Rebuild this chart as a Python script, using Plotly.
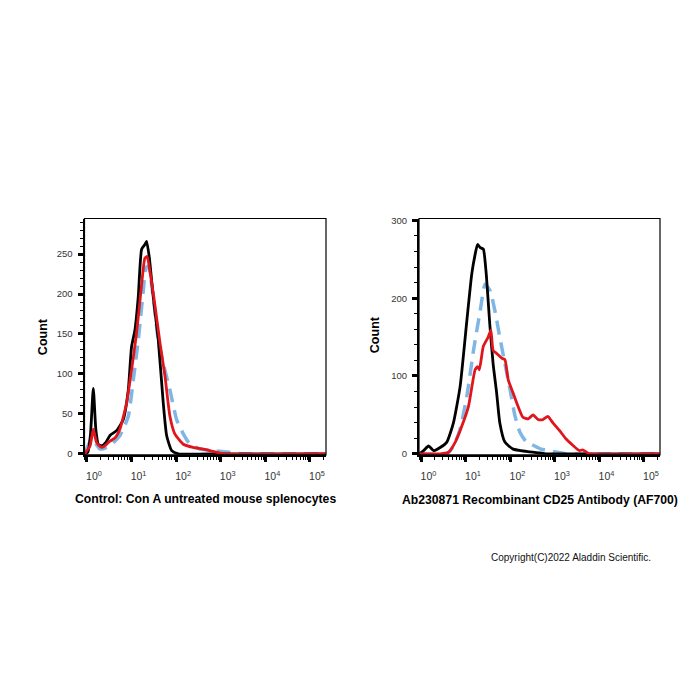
import numpy as np
import plotly.graph_objects as go
from plotly.subplots import make_subplots

# ---- data (x in log10 decades of fluorescence, y = count) ----
left_black_logx = [-0.05, 0.02, 0.08, 0.142, 0.2, 0.254, 0.33, 0.42, 0.516, 0.665, 0.815, 0.927, 1.0, 1.076, 1.15, 1.226, 1.30, 1.338, 1.40, 1.487, 1.6, 1.71, 1.786, 1.9, 2.05, 3.0, 5.35]
left_black_y    = [0, 2, 25, 82, 30, 12, 10, 14, 23, 29, 43, 80, 134, 155, 196, 256, 262, 266, 245, 196, 142, 64, 23, 4, 0, 0, 0]

left_red_logx = [-0.05, 0.07, 0.142, 0.217, 0.33, 0.42, 0.516, 0.63, 0.74, 0.89, 1.0, 1.11, 1.226, 1.30, 1.35, 1.41, 1.50, 1.64, 1.75, 1.86, 1.97, 2.16, 2.38, 2.61, 2.83, 3.06, 5.35]
left_red_y    = [0, 10, 31, 14, 8, 11, 16, 20, 31, 64, 105, 150, 212, 245, 247, 229, 196, 138, 97, 47, 25, 12, 8, 6, 3, 0, 0]

left_blue_logx = [-0.05, 0.10, 0.18, 0.29, 0.40, 0.516, 0.74, 0.927, 1.04, 1.15, 1.263, 1.32, 1.375, 1.487, 1.6, 1.71, 1.86, 2.01, 2.16, 2.31, 2.53, 2.83, 3.2, 3.5, 5.35]
left_blue_y    = [0, 18, 14, 6, 7, 10, 23, 47, 93, 142, 204, 233, 235, 196, 142, 113, 80, 43, 25, 12, 6, 4, 2, 0, 0]

right_black_logx = [-0.04, 0.05, 0.16, 0.275, 0.42, 0.57, 0.72, 0.87, 1.02, 1.13, 1.205, 1.26, 1.32, 1.39, 1.45, 1.54, 1.61, 1.69, 1.76, 1.875, 2.06, 2.36, 2.66, 2.8, 5.35]
right_black_y    = [0, 4, 10, 4, 8, 15, 40, 87, 171, 231, 256, 269, 265, 263, 235, 163, 116, 78, 40, 15, 6, 3, 1, 0, 0]

right_red_logx = [-0.04, 0.42, 0.61, 0.76, 0.91, 1.057, 1.205, 1.26, 1.30, 1.39, 1.50, 1.56, 1.61, 1.69, 1.80, 1.875, 1.95, 2.06, 2.17, 2.28, 2.40, 2.51, 2.62, 2.73, 2.84, 2.95, 3.10, 3.25, 3.40, 3.55, 3.62, 3.77, 5.35]
right_red_y    = [0, 0, 2, 15, 36, 61, 108, 112, 108, 138, 150, 159, 133, 129, 123, 121, 95, 78, 61, 47, 45, 50, 44, 44, 48, 40, 30, 19, 11, 4, 5, 0, 0]

right_blue_logx = [-0.04, 0.57, 0.72, 0.87, 1.02, 1.17, 1.32, 1.43, 1.54, 1.65, 1.76, 1.875, 1.99, 2.10, 2.21, 2.36, 2.51, 2.69, 2.95, 3.25, 5.35]
right_blue_y    = [0, 0, 10, 32, 74, 133, 184, 218, 210, 184, 150, 116, 83, 49, 28, 15, 11, 6, 3, 0, 0]

decades = [0, 1, 2, 3, 4, 5]
decade_labels = ["10<sup>0</sup>", "10<sup>1</sup>", "10<sup>2</sup>", "10<sup>3</sup>", "10<sup>4</sup>", "10<sup>5</sup>"]
left_title = "Control: Con A untreated mouse splenocytes"
right_title = "Ab230871 Recombinant CD25 Antibody (AF700)"
y_title = "Count"
copyright_text = "Copyright(C)2022 Aladdin Scientific."

BLACK = "#000000"
RED = "#e0161c"
BLUE = "#80b6e4"
FONT = "Liberation Sans, Arial, sans-serif"

fig = make_subplots(rows=1, cols=2)

def add_panel(col, bx, by, rx, ry, gx, gy):
    fig.add_trace(go.Scatter(x=10 ** np.array(gx), y=gy, mode="lines",
                             line=dict(color=BLUE, width=3.5, dash="14px,8px",
                                       shape="spline", smoothing=0.5),
                             showlegend=False), row=1, col=col)
    fig.add_trace(go.Scatter(x=10 ** np.array(bx), y=by, mode="lines",
                             line=dict(color=BLACK, width=2.8, shape="spline", smoothing=0.5),
                             showlegend=False), row=1, col=col)
    fig.add_trace(go.Scatter(x=10 ** np.array(rx), y=ry, mode="lines",
                             line=dict(color=RED, width=2.8, shape="spline", smoothing=0.5),
                             showlegend=False), row=1, col=col)

add_panel(1, left_black_logx, left_black_y, left_red_logx, left_red_y, left_blue_logx, left_blue_y)
add_panel(2, right_black_logx, right_black_y, right_red_logx, right_red_y, right_blue_logx, right_blue_y)

minor_x = [k * 10 ** d for d in range(-1, 6) for k in range(2, 10)]

xaxis_common = dict(
    type="log", range=[-0.055, 5.36],
    tickmode="array", tickvals=[10 ** d for d in decades], ticktext=decade_labels,
    ticks="outside", ticklen=5, tickwidth=3, tickcolor="black",
    showline=True, linecolor="black", linewidth=2, mirror=False,
    showgrid=False, zeroline=False,
    tickfont=dict(family=FONT, size=10.5, color="#333333"),
    ticklabelshift=7, ticklabelstandoff=6,
    minor=dict(tickmode="array", tickvals=minor_x, ticks="outside", ticklen=3,
               tickwidth=1.4, tickcolor="black", showgrid=False),
)
fig.update_xaxes(**xaxis_common)
fig.update_xaxes(domain=[84.5 / 700, 326 / 700], row=1, col=1)
fig.update_xaxes(domain=[419 / 700, 660 / 700], row=1, col=2)

yaxis_common = dict(
    ticks="outside", ticklen=5, tickwidth=3, tickcolor="black",
    showline=True, linecolor="black", linewidth=2, mirror=False,
    showgrid=False, zeroline=False,
    tickfont=dict(family=FONT, size=9.5, color="#333333"),
    ticklabelstandoff=3,
    domain=[1 - 456 / 700, 1 - 217 / 700],
)
fig.update_yaxes(**yaxis_common)
fig.update_yaxes(range=[-1.2, 294.5], tickvals=[0, 50, 100, 150, 200, 250],
                 minor=dict(dtick=10, tick0=0, ticks="outside", ticklen=3, tickwidth=1.2,
                            tickcolor="black", showgrid=False),
                 row=1, col=1)
fig.update_yaxes(range=[-1.3, 302.4], tickvals=[0, 100, 200, 300],
                 minor=dict(dtick=20, tick0=0, ticks="outside", ticklen=3, tickwidth=1.2,
                            tickcolor="black", showgrid=False),
                 row=1, col=2)

# box borders (top/right)
for xr, yr in [("x", "y"), ("x2", "y2")]:
    fig.add_shape(type="rect", xref=xr + " domain", yref=yr + " domain",
                  x0=0, x1=1, y0=0, y1=1, line=dict(color="black", width=1.2),
                  fillcolor="rgba(0,0,0,0)", layer="above")

annotations = [
    dict(text=y_title, x=43 / 700, y=1 - 337 / 700, textangle=-90, size=12.5),
    dict(text=y_title, x=375 / 700, y=1 - 335 / 700, textangle=-90, size=12.5),
    dict(text=left_title, x=206 / 700, y=1 - 501 / 700, size=12.2),
    dict(text=right_title, x=540 / 700, y=1 - 502 / 700, size=12.2),
]
for a in annotations:
    fig.add_annotation(xref="paper", yref="paper", x=a["x"], y=a["y"],
                       text="<b>" + a["text"] + "</b>", showarrow=False,
                       textangle=a.get("textangle", 0),
                       font=dict(family=FONT, size=a["size"], color="black"),
                       xanchor="center", yanchor="middle")
fig.add_annotation(xref="paper", yref="paper", x=571 / 700, y=1 - 560 / 700,
                   text=copyright_text, showarrow=False,
                   font=dict(family=FONT, size=10, color="#111111"),
                   xanchor="center", yanchor="middle")

fig.update_layout(width=700, height=700, margin=dict(l=0, r=0, t=0, b=0),
                  paper_bgcolor="white", plot_bgcolor="white")

fig.write_html("out.html")
